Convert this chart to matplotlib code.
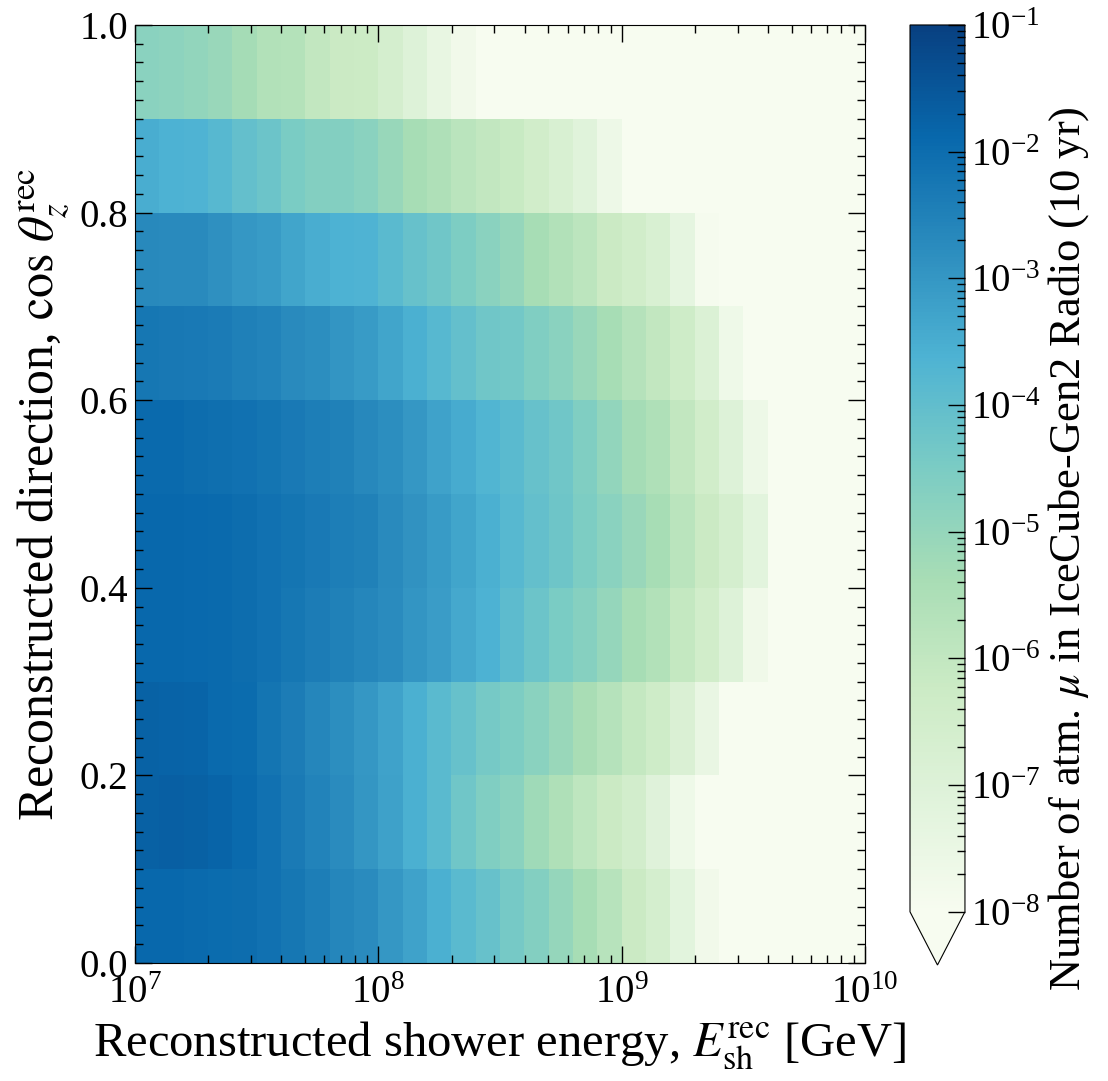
import numpy as np
import matplotlib
matplotlib.use("Agg")
import matplotlib.pyplot as plt
from matplotlib.colors import LogNorm
from matplotlib.ticker import MultipleLocator, LogLocator, NullFormatter

plt.rcParams['font.family'] = ['Liberation Serif', 'DejaVu Serif']
plt.rcParams['mathtext.fontset'] = 'stix'

# bin edges: log10(E_sh^rec / GeV) and cos(theta_z^rec)
log_e_edges = np.linspace(7, 10, 31)
cos_edges = np.linspace(0, 1, 11)

# log10(number of atm. muons, 10 yr) per energy bin; None = empty bin
cos_00_01 = [-1.88, -1.9, -1.93, -1.96, -2.0, -2.12, -2.25, -2.4, -2.6, -2.75,
             -3.0, -3.25, -3.55, -3.85, -4.1, -4.4, -4.65, -5.0, -5.35, -5.75,
             -6.2, -6.6, -7.2, -7.75, None, None, None, None, None, None]
cos_01_02 = [-1.72, -1.7, -1.73, -1.8, -1.95, -2.1, -2.32, -2.55, -2.75, -2.98,
             -3.22, -3.55, -3.85, -4.3, -4.6, -4.8, -5.2, -5.55, -5.9, -6.2,
             -6.5, -7.05, -7.65, None, None, None, None, None, None, None]
cos_02_03 = [-1.75, -1.78, -1.82, -1.93, -1.98, -2.2, -2.38, -2.6, -2.8, -3.0,
             -3.25, -3.55, -3.85, -4.1, -4.4, -4.55, -4.8, -5.1, -5.4, -5.7,
             -6.05, -6.35, -6.85, -7.45, None, None, None, None, None, None]
cos_03_04 = [-1.88, -1.88, -1.92, -1.95, -2.0, -2.12, -2.25, -2.37, -2.48, -2.6,
             -2.75, -2.95, -3.12, -3.4, -3.6, -3.9, -4.2, -4.5, -4.7, -5.0,
             -5.35, -5.6, -6.05, -6.45, -7.0, -7.7, None, None, None, None]
cos_04_05 = [-1.9, -1.9, -1.92, -1.95, -2.0, -2.1, -2.2, -2.3, -2.42, -2.5,
             -2.7, -2.9, -3.1, -3.3, -3.55, -3.8, -4.05, -4.25, -4.55, -4.8,
             -5.1, -5.35, -5.8, -6.2, -6.6, -7.2, None, None, None, None]
cos_05_06 = [-1.95, -1.95, -2.0, -2.05, -2.1, -2.2, -2.3, -2.4, -2.5, -2.65,
             -2.8, -3.0, -3.25, -3.45, -3.7, -3.85, -4.1, -4.3, -4.6, -4.95,
             -5.3, -5.55, -6.0, -6.45, -7.0, -7.6, None, None, None, None]
cos_06_07 = [-2.25, -2.27, -2.3, -2.35, -2.45, -2.55, -2.7, -2.8, -2.95, -3.1,
             -3.3, -3.55, -3.8, -4.05, -4.3, -4.35, -4.6, -4.8, -5.1, -5.35,
             -5.7, -6.0, -6.35, -6.9, -7.65, None, None, None, None, None]
cos_07_08 = [-2.68, -2.7, -2.72, -2.85, -3.0, -3.1, -3.3, -3.5, -3.6, -3.65,
             -3.85, -4.1, -4.3, -4.55, -4.8, -5.0, -5.35, -5.6, -5.85, -6.2,
             -6.45, -6.75, -7.3, -7.9, None, None, None, None, None, None]
cos_08_09 = [-3.5, -3.6, -3.65, -3.8, -4.05, -4.2, -4.5, -4.65, -4.65, -4.8,
             -5.05, -5.35, -5.55, -5.8, -6.0, -6.15, -6.45, -6.75, -7.1, -7.6,
             None, None, None, None, None, None, None, None, None, None]
cos_09_10 = [-4.8, -4.85, -4.95, -5.1, -5.3, -5.6, -5.65, -6.0, -6.2, -6.25,
             -6.6, -7.0, -7.4, -7.75, None, None, None, None, None, None,
             None, None, None, None, None, None, None, None, None, None]

rows = [cos_00_01, cos_01_02, cos_02_03, cos_03_04, cos_04_05,
        cos_05_06, cos_06_07, cos_07_08, cos_08_09, cos_09_10]
counts = np.array([[0.0 if v is None else 10.0 ** v for v in r] for r in rows])

cmap = plt.get_cmap('GnBu').copy()
cmap.set_under(cmap(0.0))
cmap.set_bad(cmap(0.0))
norm = LogNorm(vmin=1e-8, vmax=1e-1)

fig = plt.figure(figsize=(11.08, 10.81), dpi=100)
ax = fig.add_axes([0.1218, 0.1092, 0.6589, 0.8677])
cax = fig.add_axes([0.8213, 0.1073, 0.0496, 0.8696])

data = np.ma.masked_where(counts <= 0, counts)
mesh = ax.pcolormesh(10 ** log_e_edges, cos_edges, data, cmap=cmap, norm=norm,
                     shading='flat')
ax.set_xscale('log')
ax.set_xlim(1e7, 1e10)
ax.set_ylim(0, 1)
ax.set_facecolor(cmap(0.0))

ax.yaxis.set_major_locator(MultipleLocator(0.2))
ax.yaxis.set_minor_locator(MultipleLocator(0.02))
ax.xaxis.set_major_locator(LogLocator(base=10))
ax.xaxis.set_minor_locator(LogLocator(base=10, subs=np.arange(2, 10)))
ax.xaxis.set_minor_formatter(NullFormatter())
ax.yaxis.set_major_formatter(plt.FuncFormatter(lambda v, p: f"{v:.1f}"))
ax.tick_params(which='both', direction='in', top=True, right=True,
               labelsize=28, pad=5)
ax.tick_params(axis='x', which='major', pad=9)
ax.tick_params(which='major', length=12, width=1.0)
ax.tick_params(which='minor', length=6, width=1.0)

ax.set_xlabel(r'Reconstructed shower energy, $E_{\rm sh}^{\rm rec}$ [GeV]',
              fontsize=35, labelpad=5)
ax.set_ylabel(r'Reconstructed direction, $\cos\,\theta_z^{\rm rec}$',
              fontsize=36, labelpad=6)

cbar = fig.colorbar(mesh, cax=cax, extend='min', extendfrac=0.06)
cbar.ax.tick_params(which='both', direction='in', labelsize=28, pad=4)
cbar.ax.tick_params(which='major', length=12, width=1.0)
cbar.ax.tick_params(which='minor', length=6, width=1.0)
cbar.set_label(r'Number of atm. $\mu$ in IceCube-Gen2 Radio (10 yr)',
               fontsize=32, labelpad=4, y=0.41)

plt.savefig('out.png', dpi=100)
